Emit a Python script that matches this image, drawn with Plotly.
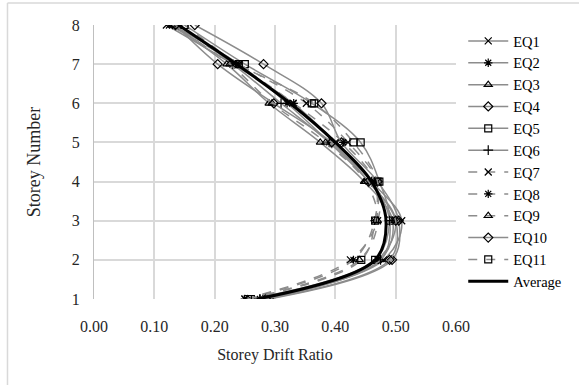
import plotly.graph_objects as go

storeys = [1, 2, 3, 4, 5, 6, 7, 8]
series_names = ["EQ1", "EQ2", "EQ3", "EQ4", "EQ5", "EQ6", "EQ7", "EQ8", "EQ9", "EQ10", "EQ11", "Average"]

eq1 = [0.280, 0.480, 0.510, 0.460, 0.400, 0.330, 0.230, 0.120]
eq2 = [0.275, 0.470, 0.500, 0.455, 0.390, 0.320, 0.240, 0.130]
eq3 = [0.280, 0.475, 0.495, 0.448, 0.375, 0.290, 0.220, 0.130]
eq4 = [0.290, 0.494, 0.505, 0.470, 0.410, 0.377, 0.281, 0.167]
eq5 = [0.260, 0.466, 0.490, 0.473, 0.442, 0.361, 0.250, 0.150]
eq6 = [0.275, 0.475, 0.490, 0.460, 0.390, 0.310, 0.230, 0.140]
eq7 = [0.250, 0.425, 0.470, 0.470, 0.421, 0.352, 0.240, 0.125]
eq8 = [0.250, 0.430, 0.465, 0.465, 0.413, 0.331, 0.237, 0.135]
eq9 = [0.255, 0.440, 0.470, 0.450, 0.384, 0.295, 0.225, 0.130]
eq10 = [0.285, 0.490, 0.500, 0.455, 0.394, 0.298, 0.205, 0.135]
eq11 = [0.255, 0.443, 0.466, 0.470, 0.430, 0.365, 0.240, 0.150]
average = [0.270, 0.466, 0.484, 0.460, 0.400, 0.325, 0.236, 0.140]

x_ticks = [0.0, 0.1, 0.2, 0.3, 0.4, 0.5, 0.6]

all_series = [eq1, eq2, eq3, eq4, eq5, eq6, eq7, eq8, eq9, eq10, eq11, average]
symbols = ["x-thin-open", "asterisk-open", "triangle-up-open", "diamond-open", "square-open",
           "cross-thin-open", "x-thin-open", "asterisk-open", "triangle-up-open", "diamond-open",
           "square-open", None]
dashes = ["solid"] * 6 + ["dash", "dash", "dash", "solid", "dash", "solid"]

FONT = "Liberation Serif"
fig = go.Figure()
for name, vals, sym, dash in zip(series_names, all_series, symbols, dashes):
    if sym is None:
        fig.add_trace(go.Scatter(
            x=vals, y=storeys, name=name, mode="lines",
            line=dict(color="black", width=3, shape="spline", smoothing=1)))
    else:
        fig.add_trace(go.Scatter(
            x=vals, y=storeys, name=name, mode="lines+markers",
            line=dict(color="#8c8c8c", width=1.5, dash=dash, shape="spline", smoothing=1),
            marker=dict(symbol=sym, size=7, color="black",
                        line=dict(color="black", width=1.2))))

fig.update_layout(
    width=579, height=385,
    margin=dict(l=94, r=121, t=25, b=86),
    paper_bgcolor="white", plot_bgcolor="white",
    font=dict(family=FONT, size=15, color="#262626"),
    showlegend=True,
    legend=dict(x=1.02, xanchor="left", y=1.0, yanchor="top",
                font=dict(family=FONT, size=14.5, color="black"),
                tracegroupgap=0, itemwidth=40, bgcolor="rgba(0,0,0,0)"),
    shapes=[
        dict(type="line", xref="paper", yref="paper", x0=-0.239, x1=-0.239, y0=1.08, y1=-0.32,
             line=dict(color="#d9d9d9", width=1.5)),
        dict(type="line", xref="paper", yref="paper", x0=-0.239, x1=1.35, y0=1.08, y1=1.08,
             line=dict(color="#d9d9d9", width=1.5)),
    ],
)
fig.update_xaxes(
    range=[0, 0.6], tickvals=x_ticks, tickformat=".2f",
    showgrid=True, gridcolor="#d9d9d9", gridwidth=2, zeroline=False,
    showline=False, ticks="", ticklabelstandoff=16,
    tickfont=dict(family=FONT, size=16, color="#262626"),
    title=dict(text="Storey Drift Ratio", font=dict(family=FONT, size=16, color="#262626"), standoff=14),
)
fig.update_yaxes(
    range=[1, 8], tickvals=storeys,
    showgrid=True, gridcolor="#d9d9d9", gridwidth=2, zeroline=False,
    showline=True, linecolor="#bfbfbf", linewidth=1, ticks="", ticklabelstandoff=10,
    tickfont=dict(family=FONT, size=16, color="#262626"),
    title=dict(text="Storey Number", font=dict(family=FONT, size=18, color="#262626"), standoff=26),
)
fig.write_html("out.html")
